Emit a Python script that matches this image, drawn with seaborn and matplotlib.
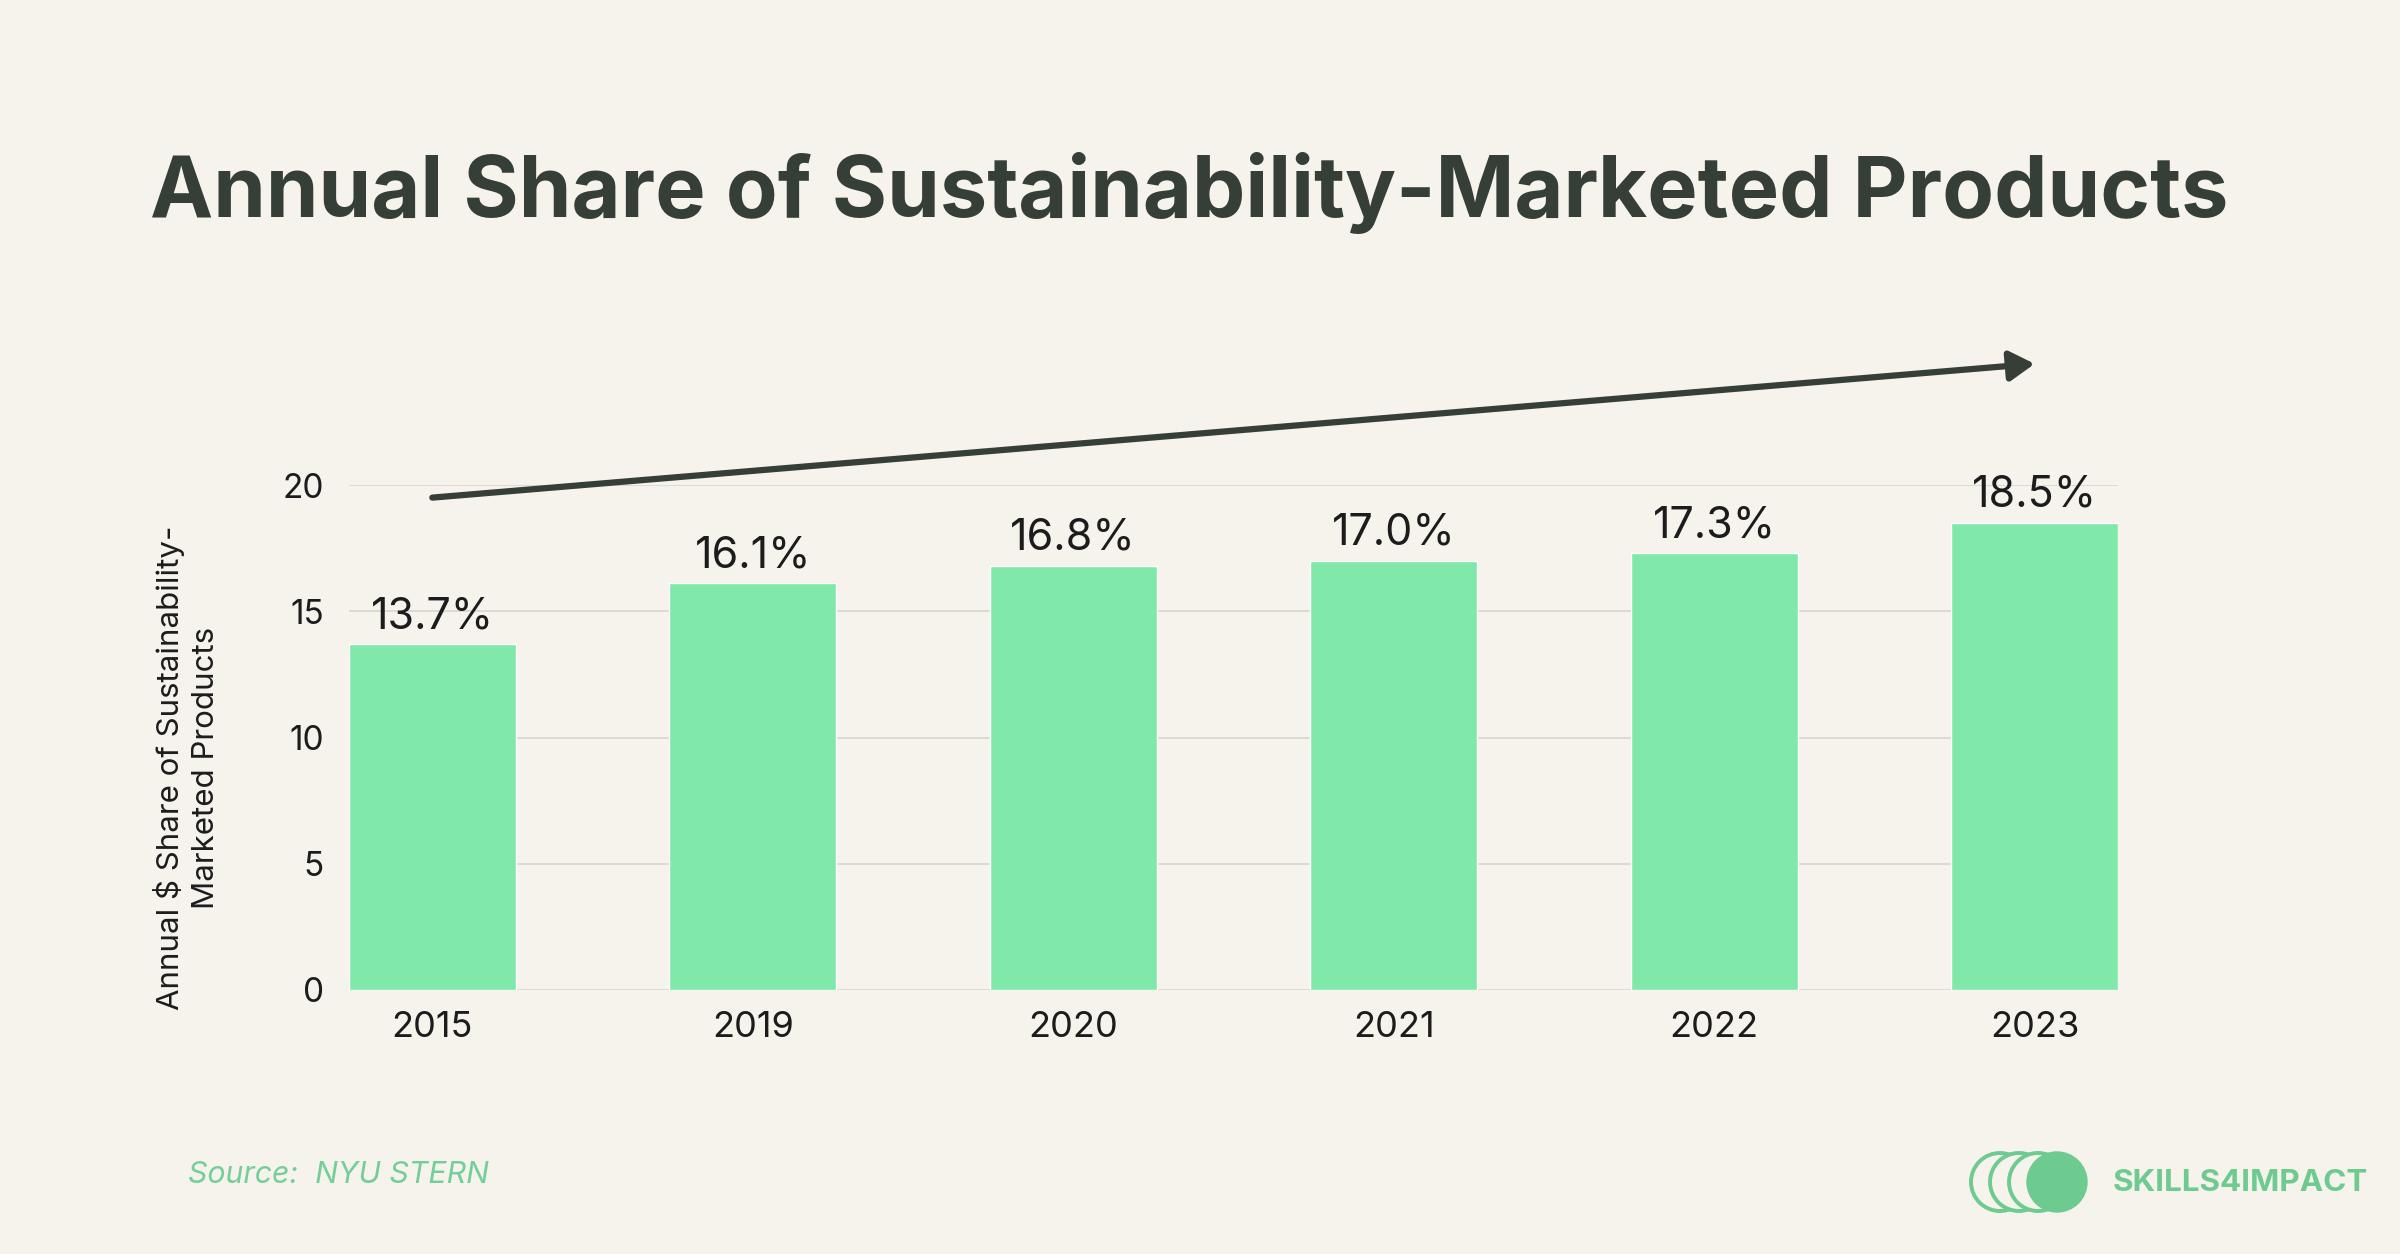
import matplotlib.pyplot as plt
import numpy as np
import pandas as pd
import seaborn as sns
from matplotlib.patches import Circle

years = ["2015", "2019", "2020", "2021", "2022", "2023"]
share = [13.7, 16.1, 16.8, 17.0, 17.3, 18.5]
bar_labels = ["13.7%", "16.1%", "16.8%", "17.0%", "17.3%", "18.5%"]
y_ticks = [0, 5, 10, 15, 20]

BG = "#f6f2ec"
BAR = "#80e8a9"
DARK = "#353f37"
LOGO = "#6ecb8f"

sns.set_theme(style="white")
plt.rcParams["font.family"] = ["Inter", "DejaVu Sans"]

df = pd.DataFrame({"year": years, "share": share})

fig = plt.figure(figsize=(24, 12.54), dpi=100, facecolor=BG)
ax = fig.add_axes([349 / 2400, 1 - 990 / 1254, 1769 / 2400, 505 / 1254])
ax.set_facecolor(BG)

sns.barplot(data=df, x="year", y="share", color=BAR, saturation=1, width=0.52,
            errorbar=None, ax=ax, zorder=3)

ax.set_xlim(-0.26, 5.26)
ax.set_ylim(0, 20)
ax.set_yticks(y_ticks)
ax.yaxis.grid(True, color="#d9d6d0", lw=1.2, zorder=0)
for s in ax.spines.values():
    s.set_visible(False)
ax.tick_params(axis="both", length=0, colors="#1c1c1c")
ax.tick_params(axis="y", pad=18, labelsize=24)
ax.tick_params(axis="x", pad=15, labelsize=26)
ax.set_xlabel("")
ax.set_ylabel("Annual $ Share of Sustainability-\nMarketed Products", fontsize=22.5,
              color="#1c1c1c", linespacing=1.3)
ax.yaxis.set_label_coords(-0.073, 0.44)

ax.bar_label(ax.containers[0], labels=bar_labels, padding=5, fontsize=31, color="#1c1c1c")

# trend arrow
ax.annotate("", xy=(5.0, 24.8), xytext=(0.0, 19.5), annotation_clip=False,
            arrowprops=dict(arrowstyle="-|>,head_length=0.5,head_width=0.3",
                            mutation_scale=30, lw=4.5, color=DARK,
                            shrinkA=0, shrinkB=0))

fig.text(150 / 2400, 1 - 217 / 1254, "Annual Share of Sustainability-Marketed Products",
         fontsize=61, fontweight="bold", color=DARK, ha="left", va="baseline")

fig.text(188 / 2400, 1 - 1183 / 1254, "Source:  NYU STERN", fontsize=21.8,
         style="italic", color="#73cf97", ha="left", va="baseline")

# logo
lax = fig.add_axes([1960 / 2400, 1 - 1222 / 1254, 140 / 2400, 80 / 1254])
lax.set_xlim(0, 140)
lax.set_ylim(0, 80)
lax.set_aspect("equal")
lax.axis("off")
for i, cx in enumerate([40, 59, 78]):
    lax.add_patch(Circle((cx, 40), 29, facecolor=BG, edgecolor=LOGO, lw=2.8, zorder=i))
lax.add_patch(Circle((97, 40), 30, facecolor=LOGO, edgecolor=LOGO, zorder=5))

fig.text(2113 / 2400, 1 - 1183 / 1254, "SKILLS4IMPACT", fontsize=22.6, fontweight="bold",
         color=LOGO, ha="left", va="center")

fig.savefig("out.png", dpi=100, facecolor=BG)
